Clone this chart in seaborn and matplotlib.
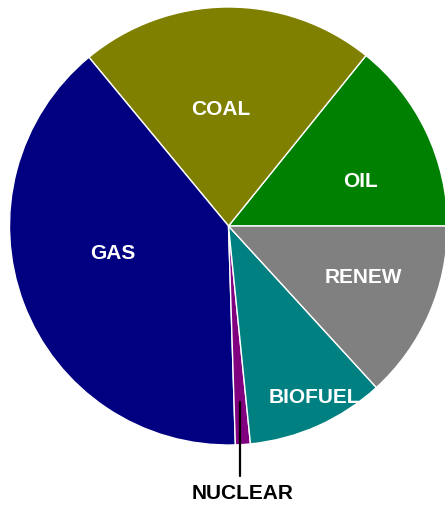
import matplotlib
matplotlib.use("Agg")
import matplotlib.pyplot as plt
import seaborn as sns

# Data (percent shares), counter-clockwise from 3 o'clock
categories = ["OIL", "COAL", "GAS", "NUCLEAR", "BIOFUEL", "RENEW"]
shares = [14.2, 21.8, 39.5, 1.1, 10.2, 13.2]
colors = ["#008000", "#808000", "#000080", "#800080", "#008080", "#808080"]

# Label anchor positions (pie units, center = 0,0, radius = 1)
label_x = [0.601, -0.034, -0.526, 0.066, 0.393, 0.618]
label_y = [0.177, 0.507, -0.151, -1.247, -0.810, -0.262]
label_color = ["white", "white", "white", "black", "white", "white"]

sns.set_theme(style="white")
plt.rcParams["font.family"] = ["Liberation Sans", "DejaVu Sans"]

W, H, DPI = 445, 505, 100
fig = plt.figure(figsize=(W / DPI, H / DPI), dpi=DPI)
ax = fig.add_axes([0, 0, 1, 1])

palette = sns.color_palette(colors)
ax.pie(shares, colors=palette, startangle=0, counterclock=True, radius=1.0,
       wedgeprops=dict(edgecolor="white", linewidth=1.0))

cx, cy, r = 228.5, 226.0, 219.0
ax.set_xlim((0 - cx) / r, (W - cx) / r)
ax.set_ylim((cy - H) / r, (cy - 0) / r)
ax.set_aspect("auto")
ax.axis("off")

for name, x, y, c in zip(categories, label_x, label_y, label_color):
    ax.text(x, y, name, ha="center", va="baseline", color=c,
            fontsize=15, fontweight="bold")

# leader line for NUCLEAR
ax.plot([0.0525, 0.0525], [-0.802, -1.142], color="black", linewidth=1.6)

fig.savefig("out.png", dpi=DPI, facecolor="white")
